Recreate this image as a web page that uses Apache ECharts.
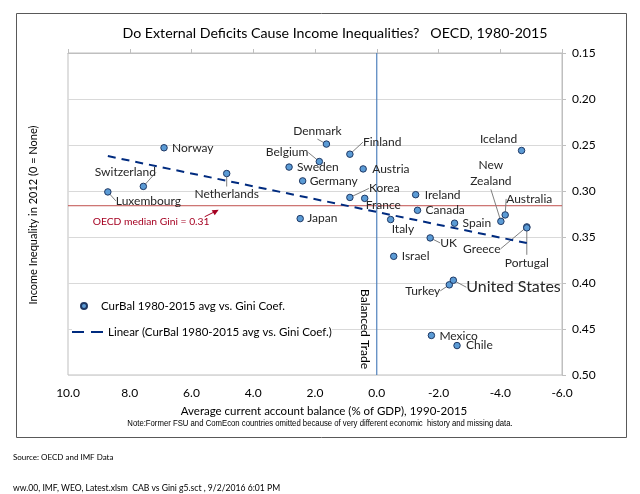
<!DOCTYPE html>
<html>
<head>
<meta charset="utf-8">
<script src="https://cdn.jsdelivr.net/npm/echarts@6/dist/echarts.min.js"></script>
<style>
  html, body { margin: 0; padding: 0; background: #fff; }
  #chart { width: 640px; height: 494px; }
</style>
</head>
<body>
<div id="chart"></div>
<script>
// 国家、经常账户余额(% GDP)、基尼系数
var countries = ['Norway', 'Denmark', 'Finland', 'Belgium', 'Sweden', 'Austria', 'Germany',
  'Netherlands', 'Switzerland', 'Luxembourg', 'Korea', 'France', 'Japan', 'Iceland',
  'Ireland', 'Canada', 'Italy', 'Spain', 'New Zealand', 'Australia', 'Greece', 'Portugal',
  'UK', 'Israel', 'Turkey', 'United States', 'Mexico', 'Chile'];
var curBal = [6.89, 1.63, 0.87, 1.86, 2.84, 0.44, 2.40,
  4.86, 7.56, 8.71, 0.87, 0.39, 2.48, -4.69,
  -1.26, -1.32, -0.45, -2.52, -4.02, -4.16, -4.86, -4.86,
  -1.73, -0.55, -2.35, -2.48, -1.77, -2.60];
var gini = [0.253, 0.249, 0.260, 0.268, 0.274, 0.276, 0.289,
  0.281, 0.295, 0.301, 0.307, 0.308, 0.330, 0.256,
  0.304, 0.321, 0.331, 0.335, 0.333, 0.326, 0.339, 0.340,
  0.351, 0.371, 0.402, 0.397, 0.457, 0.468];
var xTicks = [10, 8, 6, 4, 2, 0, -2, -4, -6];
var yTicks = [0.15, 0.20, 0.25, 0.30, 0.35, 0.40, 0.45, 0.50];
var medianGini = 0.316;
var balancedTrade = 0;

// 标签位置: [dx, dy, 对齐, 引导线]
var placement = {
  'Norway': [8, 0, 'left', false],
  'Denmark': [-9, -13, 'center', true],
  'Finland': [13, -12, 'left', true],
  'Belgium': [-11, -9, 'right', true],
  'Sweden': [8, 0, 'left', false],
  'Austria': [9, 0, 'left', false],
  'Germany': [7, 0, 'left', false],
  'Netherlands': [0, 21, 'center', true],
  'Switzerland': [-18, -14, 'center', true],
  'Luxembourg': [8, 9, 'left', true],
  'Korea': [19, -9, 'left', true],
  'France': [1, 7, 'left', false],
  'Japan': [7, 0, 'left', false],
  'Iceland': [-23, -11, 'center', false],
  'Ireland': [9, 0, 'left', false],
  'Canada': [8, 0, 'left', false],
  'Italy': [1, 10, 'left', false],
  'Spain': [8, 0, 'left', false],
  'New Zealand': [-10, -48, 'center', true],
  'Australia': [24, -16, 'center', true],
  'Greece': [-45, 22, 'center', true],
  'Portugal': [0, 35, 'center', true],
  'UK': [10, 5, 'left', true],
  'Israel': [8, 0, 'left', false],
  'Turkey': [-9, 6, 'right', true],
  'United States': [13, 7, 'left', true],
  'Mexico': [8, 1, 'left', false],
  'Chile': [9, 0, 'left', false]
};

var FONT = 'Lato';
var SCATTER_NAME = 'CurBal 1980-2015 avg vs. Gini Coef.';
var TREND_NAME = 'Linear (CurBal 1980-2015 avg vs. Gini Coef.)';

// 线性回归 (趋势线)
var n = curBal.length, mx = 0, my = 0;
for (var i = 0; i < n; i++) { mx += curBal[i]; my += gini[i]; }
mx /= n; my /= n;
var sxy = 0, sxx = 0;
for (var i = 0; i < n; i++) {
  sxy += (curBal[i] - mx) * (gini[i] - my);
  sxx += (curBal[i] - mx) * (curBal[i] - mx);
}
var slope = sxy / sxx, icpt = my - slope * mx;
var xMin = Math.min.apply(null, curBal), xMax = Math.max.apply(null, curBal);
var trend = [[xMax, icpt + slope * xMax], [xMin, icpt + slope * xMin]];

var axXMin = xTicks[xTicks.length - 1], axXMax = xTicks[0];
var axYMin = yTicks[0], axYMax = yTicks[yTicks.length - 1];

var points = [];
for (var i = 0; i < n; i++) {
  var item = { name: countries[i], value: [curBal[i], gini[i]] };
  item.labelLine = { show: placement[countries[i]][3] };
  if (countries[i] == 'United States') item.label = { fontSize: 16 };
  points.push(item);
}

var chart = echarts.init(document.getElementById('chart'));
var option = {
  backgroundColor: '#fff',
  animation: false,
  title: {
    text: 'Do External Deficits Cause Income Inequalities?   OECD, 1980-2015',
    left: 330, top: 21, textAlign: 'center',
    textStyle: { fontFamily: FONT, fontSize: 14.2, fontWeight: 'normal', color: '#000' }
  },
  grid: { left: 68, right: 78, top: 53, bottom: 119, show: true, borderColor: '#bfbfbf', borderWidth: 1 },
  legend: [{
    left: 80, top: 300, itemWidth: 24, itemHeight: 6, padding: 0,
    backgroundColor: '#fff',
    textStyle: { fontFamily: FONT, fontSize: 11.5, color: '#000' },
    data: [{ name: SCATTER_NAME, icon: 'circle' }]
  }, {
    left: 72, top: 326, itemWidth: 31, itemHeight: 2.5, padding: 0,
    backgroundColor: '#fff',
    textStyle: { fontFamily: FONT, fontSize: 11.5, color: '#000' },
    data: [{ name: TREND_NAME, icon: 'path://M0,0 H12 V2 H0 Z M19,0 H31 V2 H19 Z' }]
  }],
  xAxis: [{
    type: 'value', min: axXMin, max: axXMax, interval: 2, inverse: true,
    position: 'bottom',
    name: 'Average current account balance (% of GDP), 1990-2015',
    nameLocation: 'middle', nameGap: 30,
    nameTextStyle: { fontFamily: FONT, fontSize: 11.5, color: '#000', padding: [0, 0, 0, 18] },
    axisLine: { show: false, onZero: false }, axisTick: { show: false }, splitLine: { show: false },
    axisLabel: { margin: 12, fontFamily: FONT, fontSize: 12, color: '#000',
      formatter: function (v) { return v.toFixed(1); } }
  }, {
    type: 'value', min: axXMin, max: axXMax, interval: 2, inverse: true,
    position: 'top',
    axisLine: { show: true, onZero: false, lineStyle: { color: '#bfbfbf' } },
    axisTick: { show: true, length: 4, lineStyle: { color: '#bfbfbf' } },
    axisLabel: { show: false }, splitLine: { show: false }
  }],
  yAxis: {
    type: 'value', min: axYMin, max: axYMax, interval: 0.05, inverse: true,
    position: 'right',
    axisLine: { show: true, onZero: false, lineStyle: { color: '#bfbfbf' } },
    axisTick: { show: true, length: 4, lineStyle: { color: '#bfbfbf' } },
    splitLine: { show: true, lineStyle: { color: '#d9d9d9', width: 1 } },
    axisLabel: { margin: 10, fontFamily: FONT, fontSize: 12, color: '#000',
      formatter: function (v) { return v.toFixed(2); } }
  },
  series: [{
    // OECD 中位数基尼线
    name: 'median', type: 'line', z: 2, silent: true, showSymbol: false, symbol: 'none',
    lineStyle: { color: '#c0504d', width: 1 },
    data: [[axXMin, medianGini], [axXMax, medianGini]]
  }, {
    // 贸易平衡线 (x = 0)
    name: 'balanced', type: 'line', z: 3, silent: true, showSymbol: false, symbol: 'none',
    lineStyle: { color: '#4f81bd', width: 1.2 },
    data: [[balancedTrade, axYMin], [balancedTrade, axYMax]]
  }, {
    name: SCATTER_NAME,
    type: 'scatter', z: 4,
    symbolSize: 6.5,
    itemStyle: { color: '#5b9bd5', borderColor: '#1f3864', borderWidth: 1, opacity: 1 },
    label: {
      show: true, fontFamily: FONT, fontSize: 12, color: '#262626',
      formatter: function (p) { return p.name == 'New Zealand' ? 'New\nZealand' : p.name; },
      lineHeight: 16
    },
    labelLine: { show: false, lineStyle: { color: '#7f7f7f', width: 1 } },
    labelLayout: function (p) {
      var pl = placement[countries[p.dataIndex]];
      var cx = p.rect.x + p.rect.width / 2, cy = p.rect.y + p.rect.height / 2;
      return { x: cx + pl[0], y: cy + pl[1], align: pl[2], verticalAlign: 'middle' };
    },
    data: points
  }, {
    name: TREND_NAME,
    type: 'line', z: 5,
    showSymbol: false, symbol: 'none',
    lineStyle: { color: '#002b7f', width: 2, type: [8, 6] },
    itemStyle: { color: '#002b7f' },
    data: trend
  }]
};
chart.setOption(option);

// 注释: 平衡贸易、OECD 中位数、外框
var p0 = chart.convertToPixel({ xAxisIndex: 0, yAxisIndex: 0 }, [balancedTrade, 0.45]);
var pm = chart.convertToPixel({ xAxisIndex: 0, yAxisIndex: 0 }, [9.2, medianGini]);
chart.setOption({
  graphic: [
    { type: 'rect', shape: { x: 16.5, y: 13.5, width: 610, height: 424 },
      style: { fill: 'none', stroke: '#595959', lineWidth: 1 }, z: -1 },
    { type: 'text', x: 33, y: 215, rotation: Math.PI / 2,
      style: { text: 'Income Inequality in 2012 (0 = None)', fontFamily: FONT, fontSize: 11,
        fill: '#000', align: 'center', verticalAlign: 'middle' } },
    { type: 'text', x: p0[0] - 12, y: p0[1], rotation: -Math.PI / 2,
      style: { text: 'Balanced Trade', fontFamily: FONT, fontSize: 12, fill: '#000',
        align: 'center', verticalAlign: 'middle' } },
    { type: 'text', x: pm[0], y: pm[1] + 16,
      style: { text: 'OECD median Gini = 0.31', fontFamily: FONT, fontSize: 10.3, fill: '#a50021',
        align: 'left', verticalAlign: 'middle' } },
    { type: 'line', shape: { x1: pm[0] + 112, y1: pm[1] + 11, x2: pm[0] + 123, y2: pm[1] + 5.5 },
      style: { stroke: '#a50021', lineWidth: 1 } },
    { type: 'polygon', shape: { points: [[pm[0] + 126, pm[1] + 4], [pm[0] + 119, pm[1] + 4.5], [pm[0] + 122, pm[1] + 9.5]] },
      style: { fill: '#a50021' } },
    { type: 'text', x: 320, y: 424, scaleX: 0.86,
      style: { text: 'Note:Former FSU and ComEcon countries omitted because of very different economic  history and missing data.',
        fontFamily: 'Liberation Sans', fontSize: 9, fill: '#000', align: 'center', verticalAlign: 'middle' } },
    { type: 'text', x: 13, y: 457,
      style: { text: 'Source: OECD and IMF Data', fontFamily: FONT, fontSize: 8, fill: '#000',
        align: 'left', verticalAlign: 'middle' } },
    { type: 'text', x: 13, y: 488,
      style: { text: 'ww.00, IMF, WEO, Latest.xlsm  CAB vs Gini g5.sct , 9/2/2016 6:01 PM', fontFamily: FONT, fontSize: 8.6,
        fill: '#000', align: 'left', verticalAlign: 'middle' } }
  ]
});
</script>
</body>
</html>
